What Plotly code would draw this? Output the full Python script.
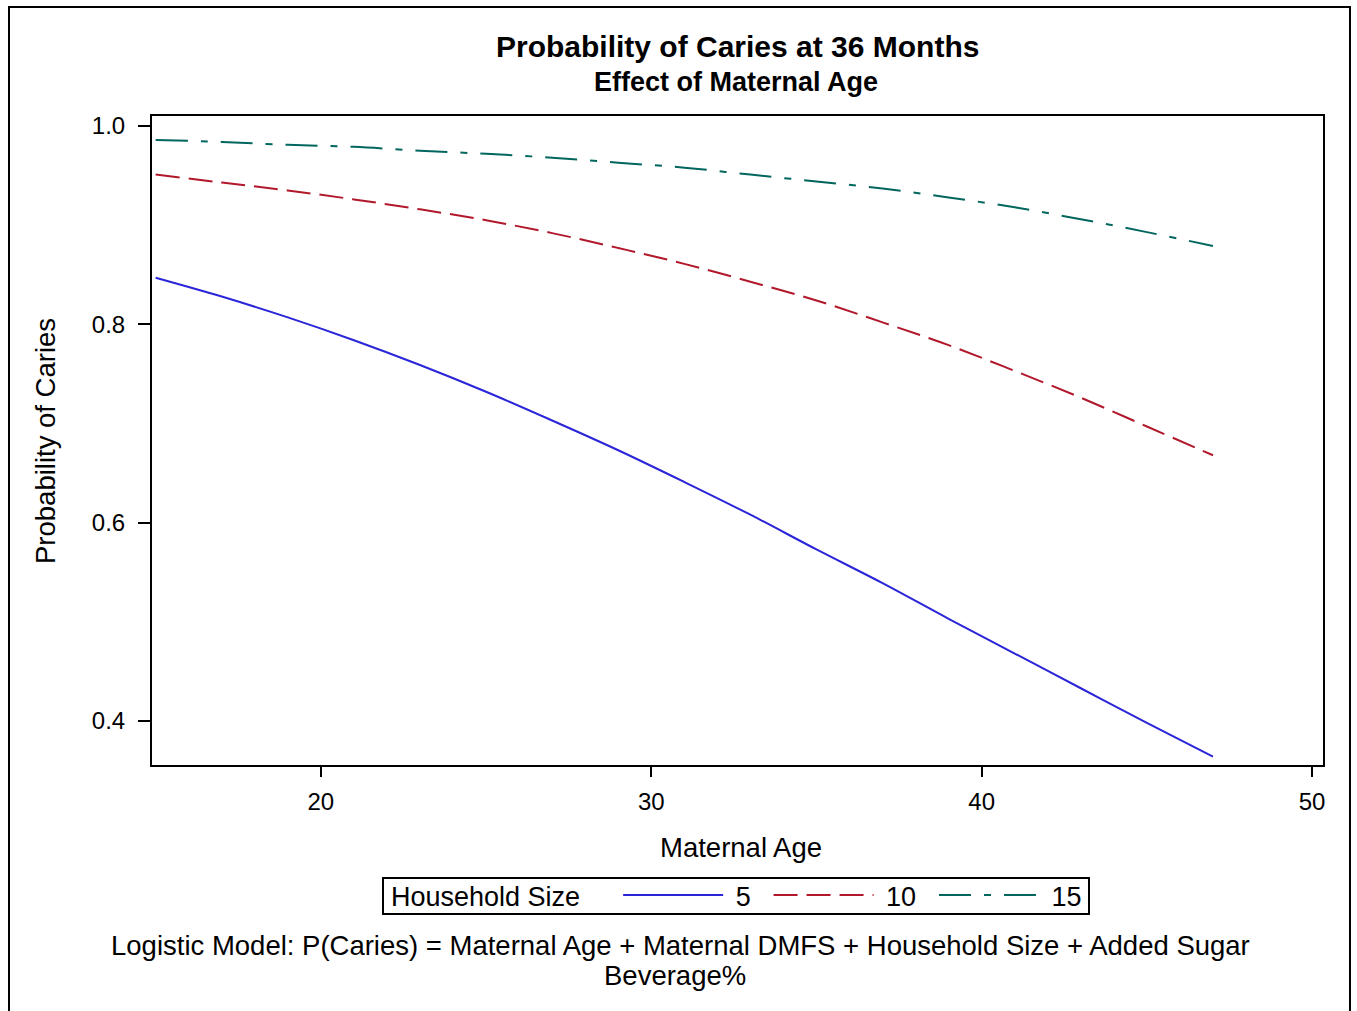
import plotly.graph_objects as go

# Maternal age (years)
ages = [15, 17, 19, 21, 23, 25, 27, 29, 31, 33, 35, 37, 39, 41, 43, 45, 47]

# Predicted probability of caries by household size
hh5 = [0.847, 0.828, 0.807, 0.784, 0.759, 0.732, 0.703, 0.673, 0.641,
       0.608, 0.573, 0.539, 0.503, 0.468, 0.433, 0.398, 0.364]
hh10 = [0.951, 0.943, 0.935, 0.926, 0.916, 0.905, 0.892, 0.877, 0.861,
        0.843, 0.824, 0.802, 0.779, 0.753, 0.726, 0.697, 0.668]
hh15 = [0.986, 0.984, 0.981, 0.979, 0.975, 0.972, 0.968, 0.963, 0.958,
        0.951, 0.944, 0.937, 0.928, 0.918, 0.906, 0.893, 0.879]

series_names = ["5", "10", "15"]
x_ticks = [20, 30, 40, 50]
y_ticks = [0.4, 0.6, 0.8, 1.0]
y_tick_labels = ["0.4", "0.6", "0.8", "1.0"]

FONT = "Liberation Sans, Arial, sans-serif"
NB = "\u00a0"
TS = "\u2009"

# plot area in pixels: x 152..1323, y 116..765
L, R, T, B = 152, 1323, 116, 765
W, H = 1357, 1011
pw, ph = R - L, B - T


def px(xp):
    return (xp - L) / pw


def py(yp):
    return (B - yp) / ph


fig = go.Figure()
styles = [
    dict(color="#2A25D9", width=2, dash="solid"),
    dict(color="#B2182B", width=2, dash="24px,9px"),
    dict(color="#01665E", width=2, dash="32px,13px,7px,13px"),
]
for name, ys, st in zip(series_names, [hh5, hh10, hh15], styles):
    fig.add_trace(go.Scatter(x=ages, y=ys, mode="lines",
                             name=NB + name + NB + TS,
                             line=st, line_shape="spline"))

fig.update_layout(
    width=W, height=H,
    margin=dict(l=L, r=W - R, t=T, b=H - B),
    paper_bgcolor="white", plot_bgcolor="white",
    font=dict(family=FONT, size=24, color="black"),
    showlegend=True,
    legend=dict(
        orientation="h",
        x=px(389), xanchor="left",
        y=py(871), yanchor="top",
        bgcolor="rgba(0,0,0,0)",
        borderwidth=0,
        font=dict(size=27, family=FONT),
        title=dict(text="Household Size" + NB * 4, side="left",
                   font=dict(size=27, family=FONT)),
        itemwidth=100,
        traceorder="normal",
        tracegroupgap=0,
    ),
)

fig.update_xaxes(
    range=[14.89, 50.33],
    tickvals=x_ticks,
    ticks="outside", ticklen=10, tickwidth=2, tickcolor="black",
    showline=True, linecolor="black", linewidth=2, mirror=True,
    showgrid=False, zeroline=False,
    tickfont=dict(size=24, family=FONT),
    ticklabelstandoff=4,
)
fig.update_yaxes(
    range=[0.3556, 1.0101],
    tickvals=y_ticks, ticktext=y_tick_labels,
    ticks="outside", ticklen=12, tickwidth=2, tickcolor="black",
    showline=True, linecolor="black", linewidth=2, mirror=True,
    showgrid=False, zeroline=False,
    tickfont=dict(size=24, family=FONT),
    ticklabelstandoff=8,
)

annotations = [
    dict(text="<b>Probability of Caries at 36 Months</b>", x=px(737), y=py(47),
         font=dict(size=30, family=FONT)),
    dict(text="<b>Effect of Maternal Age</b>", x=px(736), y=py(82),
         font=dict(size=27, family=FONT)),
    dict(text="Maternal Age", x=px(741), y=py(847), font=dict(size=27.5, family=FONT)),
    dict(text="Probability of Caries", x=px(45), y=py(441), textangle=-90,
         font=dict(size=27.5, family=FONT)),
    dict(text="Logistic Model: P(Caries) = Maternal Age + Maternal DMFS + Household Size + Added Sugar",
         x=px(680), y=py(946), font=dict(size=27.5, family=FONT)),
    dict(text="Beverage%", x=px(675), y=py(975), font=dict(size=27.5, family=FONT)),
]
for a in annotations:
    a.update(xref="paper", yref="paper", showarrow=False,
             xanchor="center", yanchor="middle")
fig.update_layout(annotations=annotations)

# legend box
fig.add_shape(type="rect", xref="paper", yref="paper",
              x0=px(383), x1=px(1089), y0=py(914), y1=py(878),
              line=dict(color="black", width=2), fillcolor="rgba(0,0,0,0)")
# outer frame
fig.add_shape(type="rect", xref="paper", yref="paper",
              x0=px(9), x1=px(1350), y0=py(1030), y1=py(7),
              line=dict(color="black", width=2), fillcolor="rgba(0,0,0,0)",
              layer="below")

fig.write_html("out.html")
